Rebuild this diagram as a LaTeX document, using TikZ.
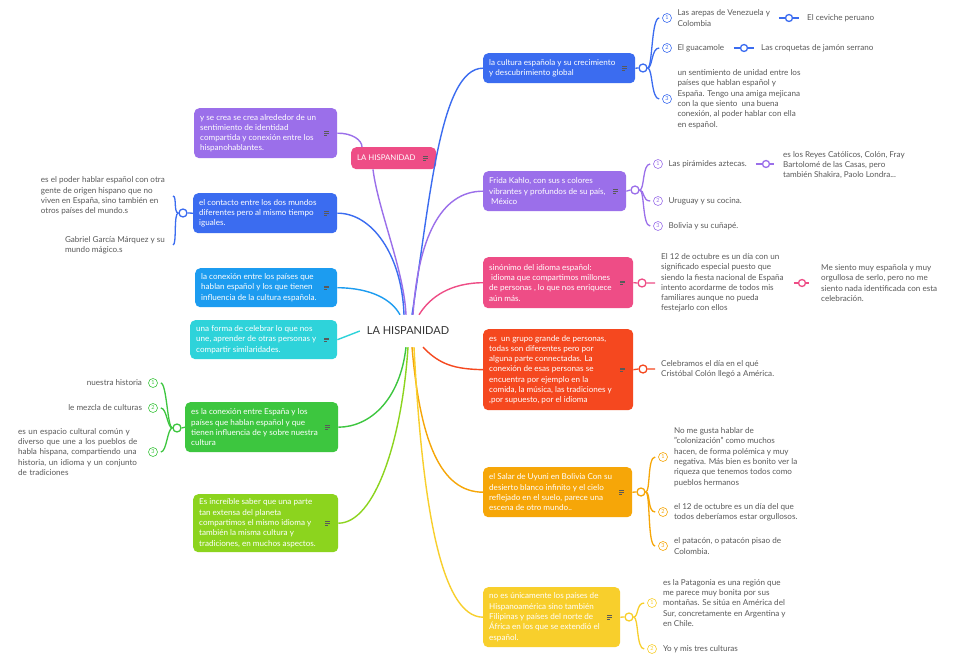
\documentclass[tikz,border=0pt]{standalone}
\usepackage{fontspec}
\setmainfont{Lato}
\newcommand\fs{\fontsize{8.1}{10.3}\selectfont}
\definecolor{cpink}{HTML}{EE4D86}
\definecolor{cpurple}{HTML}{9B6FEA}
\definecolor{cblue}{HTML}{3B6CF0}
\definecolor{csky}{HTML}{1C9CF0}
\definecolor{ccyan}{HTML}{2ED3DA}
\definecolor{cgreen}{HTML}{3DC63F}
\definecolor{clime}{HTML}{8CD41E}
\definecolor{cred}{HTML}{F5481F}
\definecolor{corange}{HTML}{F6A608}
\definecolor{cyellow}{HTML}{F8CF2C}
\definecolor{cgray}{HTML}{5A5A5A}
\tikzset{
 tbox/.style={rounded corners=5pt, inner sep=0pt, anchor=north west},
 btext/.style={text=white, align=left, anchor=west, inner sep=0pt, font=\fs},
 ctext/.style={text=cgray, align=left, anchor=west, inner sep=0pt, font=\fs},
 rtext/.style={text=cgray, align=left, anchor=east, inner sep=0pt, font=\fs},
 link/.style={line width=1.4pt},
 sub/.style={line width=1.3pt},
 knob/.style={circle, draw=#1, fill=white, line width=1.3pt, minimum size=8pt, inner sep=0pt},
 sknob/.style={knob=#1, minimum size=7pt},
 num/.style={circle, draw=#1, text=#1, line width=0.6pt, minimum size=9pt, inner sep=0pt, font=\fontsize{5.5}{6}\selectfont},
 iconl/.style={line width=0.55pt, black!65},
}
% name x1 y1 x2 y2 color text
\newcommand\mmbox[7]{%
  \node[tbox, fill=#6, minimum width={(#4-#2)*1pt}, minimum height={(#5-#3)*1pt}] (#1) at (#2,#3) {};
  \node[btext] (#1t) at ([xshift=6pt]#1.west) {#7};
  \draw[iconl] ([xshift=-13pt,yshift=1.7pt]#1.east) -- ++(4.5,0)
     ([xshift=-13pt]#1.east) -- ++(4.5,0)
     ([xshift=-13pt,yshift=-1.7pt]#1.east) -- ++(3,0);
}
\newcommand\rbr[3]{\draw[sub,#1] (#2.east) .. controls +(5,0) and +(-8,0) .. ([xshift=-3pt]#3.west);}
\newcommand\lbr[3]{\draw[sub,#1] (#2.west) .. controls +(-5,0) and +(6,0) .. ([xshift=3pt]#3.east);}
\begin{document}
\begin{tikzpicture}[x=1pt,y=-1pt]
\useasboundingbox (0,0) rectangle (969,660);
\fill[white] (0,0) rectangle (969,660);

\node[font=\fontsize{11}{13}\selectfont, text=black!80, minimum width=96pt, minimum height=32pt, inner sep=0pt] (hub) at (408,331) {LA HISPANIDAD};

% ---------- boxes ----------
\mmbox{hisp}{351}{147}{436}{169}{cpink}{\fontsize{7.8}{10}\selectfont LA HISPANIDAD}
\mmbox{crea}{194}{108}{337}{158}{cpurple}{y se crea se crea alrededor de un\\sentimiento de identidad\\compartida y conexión entre los\\hispanohablantes.}
\mmbox{contacto}{193}{193}{337}{233}{cblue}{el contacto entre los dos mundos\\diferentes pero al mismo tiempo\\iguales.}
\mmbox{conexion}{195}{268}{337}{307}{csky}{la conexión entre los países que\\hablan español y los que tienen\\influencia de la cultura española.}
\mmbox{celebrar}{190}{320}{337}{359}{ccyan}{una forma de celebrar lo que nos\\une, aprender de otras personas y\\compartir similaridades.}
\mmbox{espana}{185}{402}{338}{452}{cgreen}{es la conexión entre España y los\\países que hablan español y que\\tienen influencia de y sobre nuestra\\cultura}
\mmbox{increible}{193}{494}{338}{552}{clime}{Es increíble saber que una parte\\tan extensa del planeta\\compartimos el mismo idioma y\\también la misma cultura y\\tradiciones, en muchos aspectos.}

\mmbox{cultura}{483}{53}{635}{83}{cblue}{la cultura española y su crecimiento\\y descubrimiento global}
\mmbox{frida}{483}{171}{626}{211}{cpurple}{Frida Kahlo, con sus s colores\\vibrantes y profundos de su país,\\\hspace{2pt}México}
\mmbox{sinonimo}{483}{257}{633}{308}{cpink}{sinónimo del idioma español:\\\hspace{2pt}idioma que compartimos millones\\de personas , lo que nos enriquece\\aún más.}
\mmbox{grupo}{483}{329}{633}{410}{cred}{es\ \ un grupo grande de personas,\\todas son diferentes pero por\\alguna parte connectadas. La\\conexión de esas personas se\\encuentra por ejemplo en la\\comida, la música, las tradiciones y\\,por supuesto, por el idioma}
\mmbox{salar}{483}{467}{632}{517}{corange}{el Salar de Uyuni en Bolivia Con su\\desierto blanco infinito y el cielo\\reflejado en el suelo, parece una\\escena de otro mundo..}
\mmbox{filipinas}{483}{587}{620}{647}{cyellow}{no es únicamente los países de\\Hispanoamérica sino también\\Filipinas y países del norte de\\África en los que se extendió el\\español.}

% ---------- main links ----------
\draw[link,cpurple] ([xshift=-2pt]hub.north) .. controls (404,270) and (378,210) .. ([xshift=22pt]hisp.south west);
\draw[link,cpurple] (crea.east) .. controls (352,133) and (362,140) .. ([xshift=11pt]hisp.north west);
\draw[link,cblue] ([xshift=4pt]hub.north) .. controls (430,200) and (440,68) .. (cultura.west);
\draw[link,cblue] (contacto.east) .. controls (372,213) and (402,255) .. ([xshift=-4pt]hub.north);
\draw[link,cpurple] ([xshift=5pt]hub.north) .. controls (418,240) and (440,191) .. (frida.west);
\draw[link,csky] (conexion.east) .. controls (372,288) and (392,300) .. ([xshift=-8pt]hub.north);
\draw[link,cpink] ([xshift=11pt]hub.north) .. controls (430,297) and (450,283) .. (sinonimo.west);
\draw[link,ccyan] (celebrar.east) -- (hub.west);
\draw[link,cred] ([xshift=15pt]hub.south) .. controls (440,365) and (455,369) .. (grupo.west);
\draw[link,cgreen] ([xshift=-2pt]hub.south) .. controls (400,400) and (370,427) .. (espana.east);
\draw[link,clime] (hub.south) .. controls (402,440) and (375,523) .. (increible.east);
\draw[link,corange] ([xshift=4pt]hub.south) .. controls (420,440) and (440,492) .. (salar.west);
\draw[link,cyellow] ([xshift=6pt]hub.south) .. controls (422,500) and (440,617) .. (filipinas.west);

% ---------- contacto children (left) ----------
\node[knob=cblue] (kco) at (183,213) {};
\draw[sub,cblue] (contacto.west) -- (kco.east);
\node[rtext] (lp1) at (165,196) {es el poder hablar español con otra\\gente de origen hispano que no\\viven en España, sino también en\\otros países del mundo.s};
\node[rtext] (lp2) at (165,245) {Gabriel García Márquez y su\\mundo mágico.s};
\draw[sub,cblue] (kco.west) .. controls +(-5,0) and +(4,0) .. ([xshift=8pt]lp1.east);
\draw[sub,cblue] (kco.west) .. controls +(-5,0) and +(4,0) .. ([xshift=8pt]lp2.east);

% ---------- espana children (left) ----------
\node[knob=cgreen] (kes) at (177,428) {};
\draw[sub,cgreen] (espana.west) -- (kes.east);
\node[num=cgreen] (g1) at (153,383) {1};
\node[num=cgreen] (g2) at (153,408) {2};
\node[num=cgreen] (g3) at (153,452) {3};
\lbr{cgreen}{kes}{g1}
\lbr{cgreen}{kes}{g2}
\lbr{cgreen}{kes}{g3}
\node[rtext] (gt1) at ([xshift=-6pt]g1.west) {nuestra historia};
\node[rtext] (gt2) at ([xshift=-6pt]g2.west) {le mezcla de culturas};
\node[rtext, text width=123pt] (gt3) at ([xshift=-7pt]g3.west) {es un espacio cultural común y\\diverso que une a los pueblos de\\habla hispana, compartiendo una\\historia, un idioma y un conjunto\\de tradiciones};

% ---------- cultura children ----------
\node[knob=cblue] (kcu) at (643,68) {};
\draw[sub,cblue] (cultura.east) -- (kcu.west);
\node[num=cblue] (cu1) at (667,18) {1};
\node[num=cblue] (cu2) at (667,48) {2};
\node[num=cblue] (cu3) at (667,99) {3};
\rbr{cblue}{kcu}{cu1}
\rbr{cblue}{kcu}{cu2}
\rbr{cblue}{kcu}{cu3}
\node[ctext] (cut1) at ([xshift=5.5pt]cu1.east) {Las arepas de Venezuela y\\Colombia};
\node[ctext] (cut2) at ([xshift=5.5pt]cu2.east) {El guacamole};
\node[ctext] (cut3) at ([xshift=5.5pt]cu3.east) {un sentimiento de unidad entre los\\países que hablan español y\\España. Tengo una amiga mejicana\\con la que siento\ \ una buena\\conexión, al poder hablar con ella\\en español.};
\node[sknob=cblue] (kcu1) at (789,18) {};
\node[ctext] (cug1) at (807,18) {El ceviche peruano};
\draw[sub,cblue] ([xshift=-6pt]kcu1.west) -- (kcu1.west) (kcu1.east) -- ([xshift=6pt]kcu1.east);
\node[sknob=cblue] (kcu2) at (744,48) {};
\node[ctext] (cug2) at (761,48) {Las croquetas de jamón serrano};
\draw[sub,cblue] ([xshift=-6pt]kcu2.west) -- (kcu2.west) (kcu2.east) -- ([xshift=6pt]kcu2.east);

% ---------- frida children ----------
\node[knob=cpurple] (kfr) at (635,190) {};
\draw[sub,cpurple] (frida.east) -- (kfr.west);
\node[num=cpurple] (fr1) at (658,164) {1};
\node[num=cpurple] (fr2) at (658,201) {2};
\node[num=cpurple] (fr3) at (658,226) {3};
\rbr{cpurple}{kfr}{fr1}
\rbr{cpurple}{kfr}{fr2}
\rbr{cpurple}{kfr}{fr3}
\node[ctext] (frt1) at ([xshift=5.5pt]fr1.east) {Las pirámides aztecas.};
\node[ctext] (frt2) at ([xshift=5.5pt]fr2.east) {Uruguay y su cocina.};
\node[ctext] (frt3) at ([xshift=5.5pt]fr3.east) {Bolivia y su cuñapé.};
\node[sknob=cpurple] (kfr1) at (766,164) {};
\node[ctext] (frg1) at (783,165) {es los Reyes Católicos, Colón, Fray\\Bartolomé de las Casas, pero\\también Shakira, Paolo Londra...};
\draw[sub,cpurple] ([xshift=-6pt]kfr1.west) -- (kfr1.west) (kfr1.east) -- ([xshift=4pt]kfr1.east);

% ---------- sinonimo children ----------
\node[knob=cpink] (ksi) at (642,283) {};
\node[ctext] (sit1) at (661,283) {El 12 de octubre es un día con un\\significado especial puesto que\\siendo la fiesta nacional de España\\intento acordarme de todos mis\\familiares aunque no pueda\\festejarlo con ellos};
\draw[sub,cpink] (sinonimo.east) -- (ksi.west) (ksi.east) -- ([xshift=-6pt]sit1.west);
\node[sknob=cpink] (ksi1) at (802,283) {};
\node[ctext] (sig1) at (821,283) {Me siento muy española y muy\\orgullosa de serlo, pero no me\\siento nada identificada con esta\\celebración.};
\draw[sub,cpink] ([xshift=-4pt]ksi1.west) -- (ksi1.west) (ksi1.east) -- ([xshift=3pt]ksi1.east);

% ---------- grupo children ----------
\node[knob=cred] (kgr) at (643,369) {};
\node[ctext] (grt1) at (661,369) {Celebramos el día en el qué\\Cristóbal Colón llegó a América.};
\draw[sub,cred] (grupo.east) -- (kgr.west) (kgr.east) -- ([xshift=-6pt]grt1.west);

% ---------- salar children ----------
\node[knob=corange] (ksa) at (641,492) {};
\draw[sub,corange] (salar.east) -- (ksa.west);
\node[num=corange] (sa1) at (663,457) {1};
\node[num=corange] (sa2) at (663,512) {2};
\node[num=corange] (sa3) at (663,546) {3};
\rbr{corange}{ksa}{sa1}
\rbr{corange}{ksa}{sa2}
\rbr{corange}{ksa}{sa3}
\node[ctext] (sat1) at ([xshift=6pt]sa1.east) {No me gusta hablar de\\"colonización" como muchos\\hacen, de forma polémica y muy\\negativa. Más bien es bonito ver la\\riqueza que tenemos todos como\\pueblos hermanos};
\node[ctext] (sat2) at ([xshift=6pt]sa2.east) {el 12 de octubre es un día del que\\todos deberíamos estar orgullosos.};
\node[ctext] (sat3) at ([xshift=6pt]sa3.east) {el patacón, o patacón pisao de\\Colombia.};

% ---------- filipinas children ----------
\node[knob=cyellow] (kfi) at (629,617) {};
\draw[sub,cyellow] (filipinas.east) -- (kfi.west);
\node[num=cyellow] (fi1) at (652,603) {1};
\node[num=cyellow] (fi2) at (652,649) {2};
\rbr{cyellow}{kfi}{fi1}
\rbr{cyellow}{kfi}{fi2}
\node[ctext] (fit1) at ([xshift=6pt]fi1.east) {es la Patagonia es una región que\\me parece muy bonita por sus\\montañas. Se sitúa en América del\\Sur, concretamente en Argentina y\\en Chile.};
\node[ctext] (fit2) at ([xshift=6pt]fi2.east) {Yo y mis tres culturas};
\end{tikzpicture}
\end{document}
